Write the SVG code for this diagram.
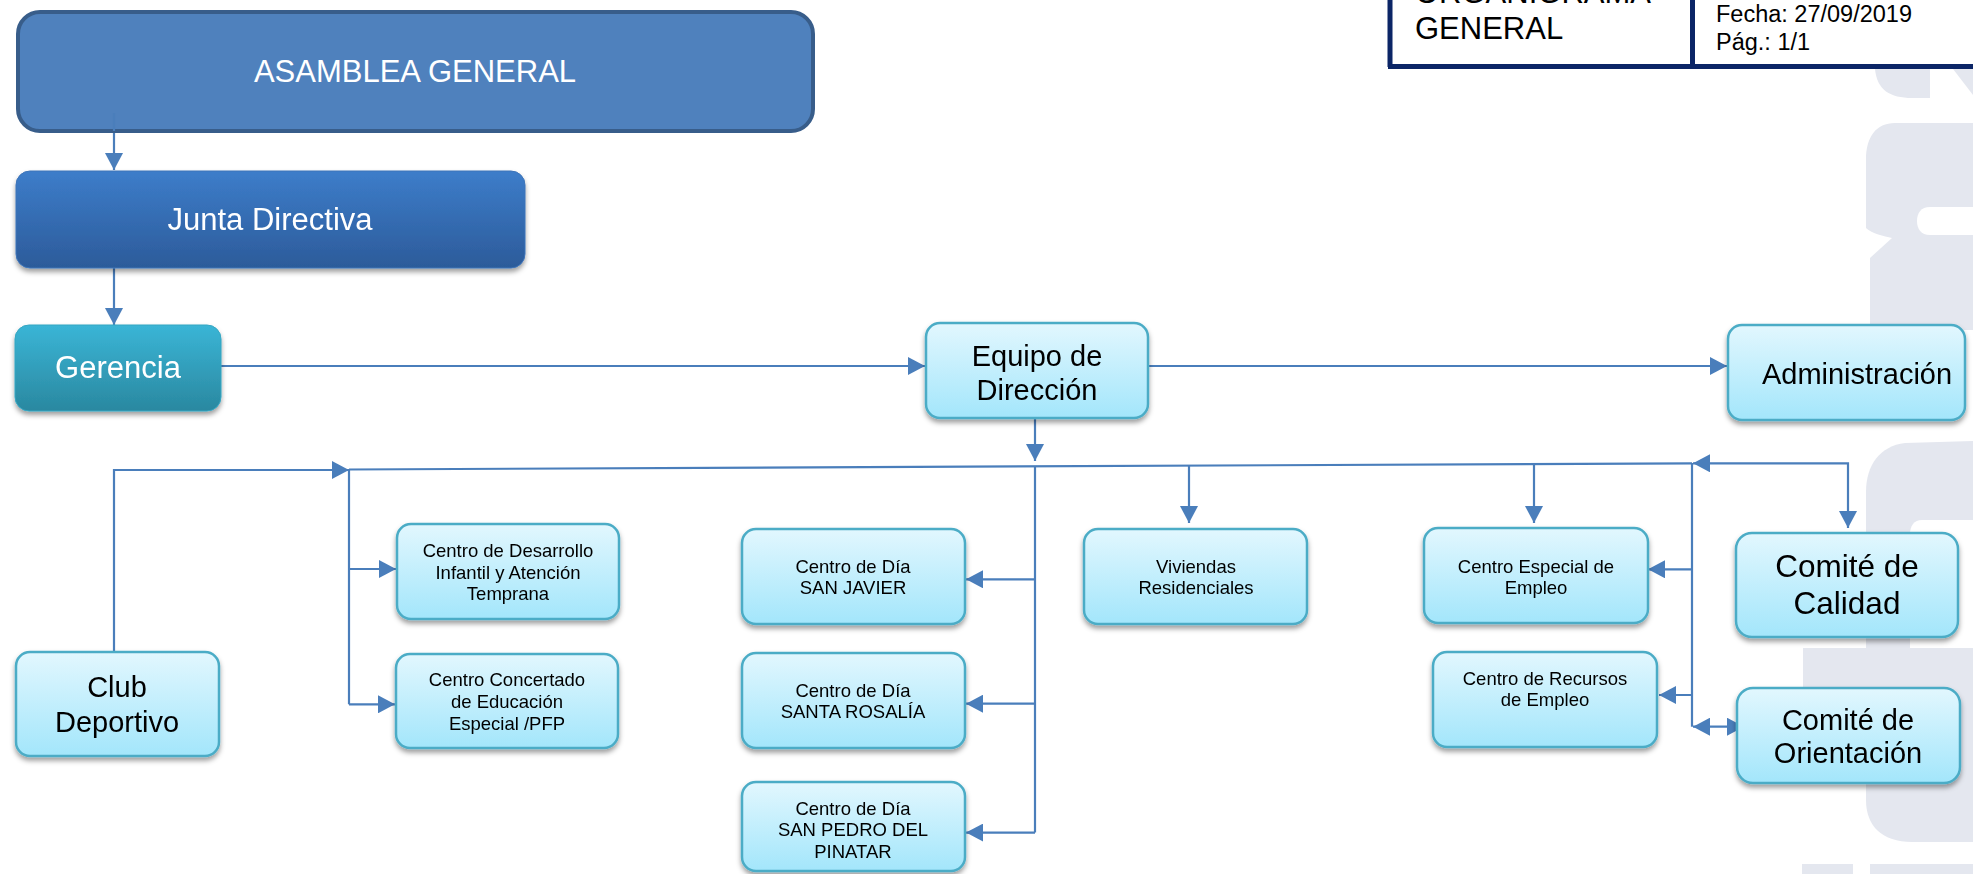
<svg xmlns="http://www.w3.org/2000/svg" width="1973" height="874" viewBox="0 0 1973 874">
<style>
text{font-family:"Liberation Sans",Arial,sans-serif;text-anchor:middle;fill:#000}
.w{fill:#fff}
.lb{fill:url(#gLight);stroke:#4bacc6;stroke-width:2.5}
.c{fill:none;stroke:#4a7ebb;stroke-width:2.2}
.ah{marker-end:url(#ah)}
.wm{fill:#e4e7ef}
.hd{stroke:#0b2566;stroke-width:5;fill:none}
.s18{font-size:18.5px}
.s29{font-size:29px}
.s31{font-size:31px}
</style>
<defs>
<linearGradient id="gLight" x1="0" y1="0" x2="0" y2="1">
<stop offset="0" stop-color="#e2f7fe"/>
<stop offset="1" stop-color="#a3e6fb"/>
</linearGradient>
<linearGradient id="gJunta" x1="0" y1="0" x2="0" y2="1">
<stop offset="0" stop-color="#3d7dca"/>
<stop offset="1" stop-color="#2c5b9a"/>
</linearGradient>
<linearGradient id="gGer" x1="0" y1="0" x2="0" y2="1">
<stop offset="0" stop-color="#3ab5d6"/>
<stop offset="1" stop-color="#2a88a0"/>
</linearGradient>
<filter id="sh" x="-10%" y="-10%" width="120%" height="130%">
<feDropShadow dx="0" dy="3.5" stdDeviation="2.5" flood-color="#000" flood-opacity="0.38"/>
</filter>
<marker id="ah" viewBox="0 0 17 18" refX="17" refY="9" markerWidth="17" markerHeight="18" markerUnits="userSpaceOnUse" orient="auto-start-reverse">
<path d="M0,0 L17,9 L0,18 z" fill="#4a7ebb"/>
</marker>
</defs>
<rect width="1973" height="874" fill="#fff"/>
<g id="watermark">
<path class="wm" d="M1875,69 C1877,90 1890,98 1912,98 L1930,98 L1930,69 Z"/>
<path class="wm" d="M1953,69 L1973,69 L1973,95 Z"/>
<path class="wm" d="M1973,123 L1895,123 C1876,123 1866,137 1866,160 L1866,228 C1872,234 1884,236 1892,238 L1870,258 L1870,330 L1973,330 Z"/>
<path fill="#fff" d="M1973,207 L1930,207 C1921,207 1917,213 1917,221 C1917,229 1921,235 1930,235 L1973,235 Z"/>
<path class="wm" d="M1973,441 L1905,443 C1880,446 1866,465 1866,492 L1866,800 C1866,826 1882,842 1912,842 L1973,842 Z"/>
<path fill="#fff" d="M1973,520 L1922,520 C1914,520 1910,526 1910,534 L1910,648 L1973,648 Z"/>
<rect class="wm" x="1803" y="648" width="170" height="112"/>
<rect class="wm" x="1802" y="864" width="51" height="10"/>
<rect class="wm" x="1870" y="864" width="103" height="10"/>
</g>
<g id="header">
<path class="hd" d="M1390,0 V67 M1692.5,0 V67 M1388,66.5 H1973"/>
<text x="1415" y="3" style="font-size:31px;text-anchor:start">ORGANIGRAMA</text>
<text x="1415" y="38.5" style="font-size:31px;text-anchor:start">GENERAL</text>
<text x="1716" y="22" style="font-size:23.5px;text-anchor:start">Fecha: 27/09/2019</text>
<text x="1716" y="49.5" style="font-size:23.5px;text-anchor:start">Pág.: 1/1</text>
</g>
<g id="connectors">
<path class="c ah" d="M114,113 V170"/>
<path class="c ah" d="M114,268 V325"/>
<path class="c ah" d="M221,366 H925"/>
<path class="c ah" d="M1148,366 H1727"/>
<path class="c ah" d="M1035,418 V461"/>
<path class="c" d="M349,469.5 L1692,463.3"/>
<path class="c ah" d="M114,652 V470 H349"/>
<path class="c" d="M349,470 V704.3"/>
<path class="c ah" d="M349,569 H396"/>
<path class="c ah" d="M349,704.3 H395"/>
<path class="c" d="M1035,466 V832.6"/>
<path class="c ah" d="M1035,579.3 H966"/>
<path class="c ah" d="M1035,703.7 H966"/>
<path class="c ah" d="M1035,832.6 H966"/>
<path class="c ah" d="M1189,465 V523"/>
<path class="c ah" d="M1534,464 V523"/>
<path class="c" d="M1692,463 V726.7"/>
<path class="c ah" d="M1692,569.3 H1648"/>
<path class="c ah" d="M1692,695 H1659"/>
<path class="c ah" style="marker-start:url(#ah)" d="M1693,726.7 H1744"/>
<path class="c ah" style="marker-start:url(#ah)" d="M1693,463.3 H1848 V528"/>
</g>
<g id="asamblea">
<rect x="18" y="12" width="795" height="119" rx="22" fill="#4f81bd" stroke="#385d8a" stroke-width="4"/>
<path class="c" d="M114,113 V131"/>
<text class="w s31" x="415" y="82">ASAMBLEA GENERAL</text>
</g>
<g id="junta" filter="url(#sh)">
<rect x="16" y="171" width="509" height="97" rx="14" fill="url(#gJunta)" stroke="#3d74b8" stroke-width="1"/>
<text class="w s31" x="270" y="230">Junta Directiva</text>
</g>
<g id="gerencia" filter="url(#sh)">
<rect x="15" y="325" width="206" height="86" rx="14" fill="url(#gGer)" stroke="#35a6c2" stroke-width="1"/>
<text class="w s31" x="118" y="378">Gerencia</text>
</g>
<g id="equipo" filter="url(#sh)">
<rect class="lb" x="926" y="323" width="222" height="95" rx="14"/>
<text class="s29" x="1037" y="366">Equipo de</text>
<text class="s29" x="1037" y="400">Dirección</text>
</g>
<g id="administracion" filter="url(#sh)">
<rect class="lb" x="1728" y="325" width="237" height="95" rx="14"/>
<text class="s29" x="1857" y="384">Administración</text>
</g>
<g id="club" filter="url(#sh)">
<rect class="lb" x="16" y="652" width="203" height="104" rx="14"/>
<text class="s29" x="117" y="697">Club</text>
<text class="s29" x="117" y="732">Deportivo</text>
</g>
<g id="cdiat" filter="url(#sh)">
<rect class="lb" x="397" y="524" width="222" height="95" rx="14"/>
<text class="s18" x="508" y="557">Centro de Desarrollo</text>
<text class="s18" x="508" y="578.5">Infantil y Atención</text>
<text class="s18" x="508" y="600">Temprana</text>
</g>
<g id="concertado" filter="url(#sh)">
<rect class="lb" x="396" y="654" width="222" height="94" rx="14"/>
<text class="s18" x="507" y="686">Centro Concertado</text>
<text class="s18" x="507" y="708">de Educación</text>
<text class="s18" x="507" y="730">Especial /PFP</text>
</g>
<g id="sanjavier" filter="url(#sh)">
<rect class="lb" x="742" y="529" width="223" height="95" rx="14"/>
<text class="s18" x="853" y="573">Centro de Día</text>
<text class="s18" x="853" y="594">SAN JAVIER</text>
</g>
<g id="santarosalia" filter="url(#sh)">
<rect class="lb" x="742" y="653" width="223" height="95" rx="14"/>
<text class="s18" x="853" y="696.5">Centro de Día</text>
<text class="s18" x="853" y="718">SANTA ROSALÍA</text>
</g>
<g id="sanpedro" filter="url(#sh)">
<rect class="lb" x="742" y="782" width="223" height="89" rx="14"/>
<text class="s18" x="853" y="815">Centro de Día</text>
<text class="s18" x="853" y="836">SAN PEDRO DEL</text>
<text class="s18" x="853" y="857.5">PINATAR</text>
</g>
<g id="viviendas" filter="url(#sh)">
<rect class="lb" x="1084" y="529" width="223" height="95" rx="14"/>
<text class="s18" x="1196" y="573">Viviendas</text>
<text class="s18" x="1196" y="594">Residenciales</text>
</g>
<g id="cee" filter="url(#sh)">
<rect class="lb" x="1424" y="528" width="224" height="95" rx="14"/>
<text class="s18" x="1536" y="573">Centro Especial de</text>
<text class="s18" x="1536" y="593.5">Empleo</text>
</g>
<g id="recursos" filter="url(#sh)">
<rect class="lb" x="1433" y="652" width="224" height="95" rx="14"/>
<text class="s18" x="1545" y="685">Centro de Recursos</text>
<text class="s18" x="1545" y="706">de Empleo</text>
</g>
<g id="calidad" filter="url(#sh)">
<rect class="lb" x="1736" y="533" width="222" height="104" rx="16"/>
<text x="1847" y="577" style="font-size:31.5px">Comité de</text>
<text x="1847" y="614" style="font-size:31.5px">Calidad</text>
</g>
<g id="orientacion" filter="url(#sh)">
<rect class="lb" x="1737" y="688" width="223" height="95" rx="16"/>
<text class="s29" x="1848" y="730">Comité de</text>
<text class="s29" x="1848" y="763">Orientación</text>
</g>
</svg>
